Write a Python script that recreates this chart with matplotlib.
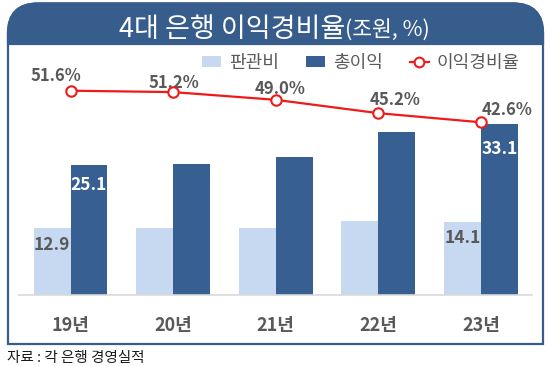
import numpy as np
import matplotlib
matplotlib.use("Agg")
import matplotlib.pyplot as plt
from matplotlib.path import Path
from matplotlib.patches import PathPatch, Patch
from matplotlib.lines import Line2D

plt.rcParams['font.family'] = ['Noto Sans CJK KR', 'DejaVu Sans']

# ---------------- data ----------------
years = ['19년', '20년', '21년', '22년', '23년']
sga = [12.9, 12.9, 13.0, 14.2, 14.1]          # 판관비 (조원)
profit = [25.1, 25.2, 26.6, 31.4, 33.1]       # 총이익 (조원)
ratio = [51.6, 51.2, 49.0, 45.2, 42.6]        # 이익경비율 (%)
series_names = ['판관비', '총이익', '이익경비율']
bar_label_idx = [0, 4]
title_main = '4대 은행 이익경비율'
title_unit = '(조원, %)'
source = '자료 : 각 은행 경영실적'

# ---------------- style ----------------
W, H, DPI = 550, 366, 100
BAND = '#375D8D'
DARK = '#375F92'
LIGHT = '#C6D9F0'
RED = '#F01A1A'
GREY = '#595959'
# label offsets in pixels (dx, dy; dy positive = up)
ratio_off = [(-15, 15), (1, 9), (4, 11), (17, 13), (26, 12)]
dark_off = [-20, -25]
light_off = [-16.5, -16.5]

fig = plt.figure(figsize=(W / DPI, H / DPI), dpi=DPI)
fig.patch.set_facecolor('white')

def fx(x):
    return x / W

def fy(y):
    return 1 - y / H

def top_rounded(x0, x1, ytop, ybot, r):
    verts = [(x0, ybot), (x0, ytop + r), (x0, ytop), (x0 + r, ytop),
             (x1 - r, ytop), (x1, ytop), (x1, ytop + r), (x1, ybot), (x0, ybot)]
    codes = [Path.MOVETO, Path.LINETO, Path.CURVE3, Path.CURVE3,
             Path.LINETO, Path.CURVE3, Path.CURVE3, Path.LINETO, Path.CLOSEPOLY]
    return Path([(fx(a), fy(b)) for a, b in verts], codes)

box = PathPatch(top_rounded(8, 543, 3.5, 344, 30), facecolor='white', edgecolor=BAND,
                linewidth=1.6, transform=fig.transFigure, zorder=-2)
band = PathPatch(top_rounded(8, 543, 3.5, 44, 30), facecolor=BAND, edgecolor=BAND,
                 linewidth=1.6, transform=fig.transFigure, zorder=-1)
fig.add_artist(box)
fig.add_artist(band)

fig.text(fx(345), fy(37), title_main, color='white', fontsize=19.5, ha='right', va='baseline')
fig.text(fx(345), fy(37), title_unit, color='white', fontsize=15.5, ha='left', va='baseline')
fig.text(fx(7), fy(358), source, color='#1a1a1a', fontsize=10.5, ha='left', va='center')

# ---------------- axes ----------------
left, right, bottom, top = 19.2, 532.3, 295, 60
ax = fig.add_axes([fx(left), fy(bottom), (right - left) / W, (bottom - top) / H])
ax.patch.set_visible(False)
x = np.arange(len(years))
bw = 0.36
b1 = ax.bar(x - bw / 2, sga, bw, color=LIGHT, zorder=2)
b2 = ax.bar(x + bw / 2, profit, bw, color=DARK, zorder=2)
ax.set_xlim(-0.5, len(years) - 0.5)
ax.set_ylim(0, (bottom - top) / 5.18)
ax.set_xticks(x)
ax.set_xticklabels(years, fontsize=13, fontweight='bold', color=GREY)
ax.tick_params(axis='x', length=0, pad=15)
ax.set_yticks([])
for s in ['left', 'right', 'top']:
    ax.spines[s].set_visible(False)
ax.spines['bottom'].set_color('#D9D9D9')
ax.spines['bottom'].set_linewidth(1.2)

for k, i in enumerate(bar_label_idx):
    ax.annotate(f'{profit[i]:.1f}', (x[i] + bw / 2, profit[i]), xytext=(0, dark_off[k] * 0.72),
                textcoords='offset points', ha='center', va='center', fontsize=12.5,
                fontweight='bold', color='white', zorder=5)
    ax.annotate(f'{sga[i]:.1f}', (x[i] - bw / 2, sga[i]), xytext=(0, light_off[k] * 0.72),
                textcoords='offset points', ha='center', va='center', fontsize=12.5,
                fontweight='bold', color=GREY, zorder=5)

ax2 = ax.twinx()
ax2.patch.set_visible(False)
px_per = 3.51
ax2.set_ylim(51.6 - (bottom - 90.7) / px_per, 51.6 + (90.7 - top) / px_per)
ax2.plot(x, ratio, color=RED, linewidth=1.6, marker='o', markersize=7.5,
         markerfacecolor='white', markeredgecolor=RED, markeredgewidth=1.5, zorder=4)
for i, v in enumerate(ratio):
    dx, dy = ratio_off[i]
    ax2.annotate(f'{v:.1f}%', (x[i], v), xytext=(dx * 0.72, dy * 0.72),
                 textcoords='offset points', ha='center', va='center', fontsize=12,
                 fontweight='bold', color=GREY)
ax2.set_yticks([])
for s in ax2.spines.values():
    s.set_visible(False)

handles = [Patch(facecolor=LIGHT), Patch(facecolor=DARK),
           Line2D([], [], color=RED, linewidth=1.6, marker='o', markersize=7,
                  markerfacecolor='white', markeredgecolor=RED, markeredgewidth=1.5)]
leg = ax2.legend(handles, series_names, ncol=3, loc='center left',
                 bbox_to_anchor=(fx(201.7), fy(63)), bbox_transform=fig.transFigure,
                 frameon=False, borderpad=0, borderaxespad=0, fontsize=13,
                 handlelength=1.05, handleheight=0.5, handletextpad=0.45,
                 columnspacing=1.5, labelcolor=GREY)

fig.savefig('out.png', dpi=DPI)
